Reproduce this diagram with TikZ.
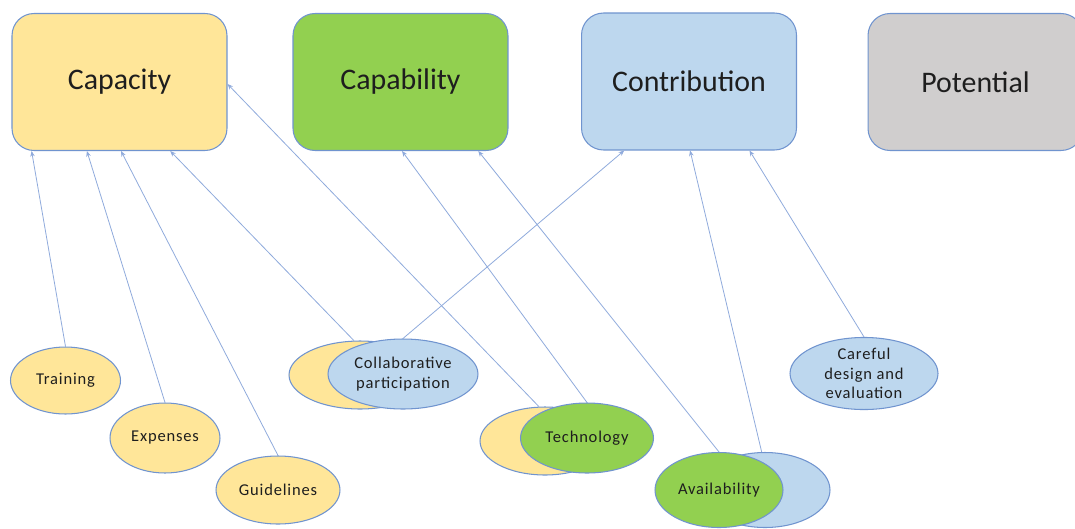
\documentclass[tikz,border=0pt]{standalone}
\usepackage{fontspec}
\setmainfont{Carlito}
\usetikzlibrary{shapes.geometric,arrows.meta,calc}
\definecolor{capyel}{HTML}{FFE699}
\definecolor{capgrn}{HTML}{92D050}
\definecolor{conblu}{HTML}{BDD7EE}
\definecolor{potgry}{HTML}{D0CECE}
\definecolor{edgeblu}{HTML}{7094CF}
\definecolor{linkblu}{HTML}{8FAADC}
\definecolor{inkgry}{HTML}{1E1E1E}
\begin{document}
\begin{tikzpicture}[x=0.02cm,y=-0.02cm,
  bigbox/.style={draw=edgeblu,line width=0.6pt,rounded corners=0.44cm,
    minimum width=4.3cm,minimum height=2.74cm,inner sep=0pt,
    font=\fontsize{17}{20}\selectfont,text=inkgry},
  oval/.style={ellipse,draw=edgeblu,line width=0.6pt,inner sep=0pt,
    font=\fontsize{9.4}{11.2}\selectfont\addfontfeature{LetterSpace=5},
    text=inkgry,align=center},
  link/.style={draw=linkblu,line width=0.45pt,
    -{Stealth[length=3.2pt,width=2.6pt]}}]
\clip (0,0) rectangle (1075,528);
\fill[white] (0,0) rectangle (1075,528);

% top row of category boxes
\node[bigbox,fill=capyel] (cap)  at (119.5,82) {Capacity};
\node[bigbox,fill=capgrn] (capb) at (400.5,82) {Capability};
\node[bigbox,fill=conblu] (con)  at (689,81.5)  {Contribution};
\node[bigbox,fill=potgry] (pot)  at (975.5,82) {Potential};

% single-category factors
\node[oval,fill=capyel,minimum width=2.2cm,minimum height=1.34cm] (train) at (65.5,380.5) {Training};
\node[oval,fill=capyel,minimum width=2.2cm,minimum height=1.4cm] (expn) at (165,438) {Expenses};
\node[oval,fill=capyel,minimum width=2.48cm,minimum height=1.36cm] (guide) at (278,490) {Guidelines};
\node[oval,fill=conblu,minimum width=2.96cm,minimum height=1.4cm] (care) at (864,373.5) {Careful\\design and\\evaluation};

% shared factors: back ellipse plus front ellipse
\node[oval,fill=capyel,minimum width=2.84cm,minimum height=1.36cm] (collY) at (360,375) {};
\node[oval,fill=conblu,minimum width=3.0cm,minimum height=1.4cm] (coll) at (403,374) {Collaborative\\participation};

\node[oval,fill=capyel,minimum width=2.6cm,minimum height=1.36cm] (techY) at (545,441) {};
\node[oval,fill=capgrn,minimum width=2.66cm,minimum height=1.4cm] (tech) at (587,438) {Technology};

\node[oval,fill=conblu,minimum width=2.6cm,minimum height=1.5cm] (availB) at (765,490) {};
\node[oval,fill=capgrn,minimum width=2.56cm,minimum height=1.5cm] (avail) at (719,490) {Availability};

% links from factors up to the categories
\draw[link] (train.north) -- ($(cap.south west)!0.093!(cap.south east)$);
\draw[link] (expn.north)  -- ($(cap.south west)!0.349!(cap.south east)$);
\draw[link] (guide.north) -- ($(cap.south west)!0.507!(cap.south east)$);
\draw[link] (collY.100)   -- ($(cap.south west)!0.735!(cap.south east)$);
\draw[link] (coll.north)  -- ($(con.south west)!0.2!(con.south east)$);
\draw[link] (techY.100)   -- ($(cap.east)+(0,2)$);
\draw[link] (tech.north)  -- ($(capb.south west)!0.507!(capb.south east)$);
\draw[link] (avail.north) -- ($(capb.south west)!0.86!(capb.south east)$);
\draw[link] (availB.95)   -- ($(con.south west)!0.505!(con.south east)$);
\draw[link] (care.north)  -- ($(con.south west)!0.78!(con.south east)$);
\end{tikzpicture}
\end{document}
